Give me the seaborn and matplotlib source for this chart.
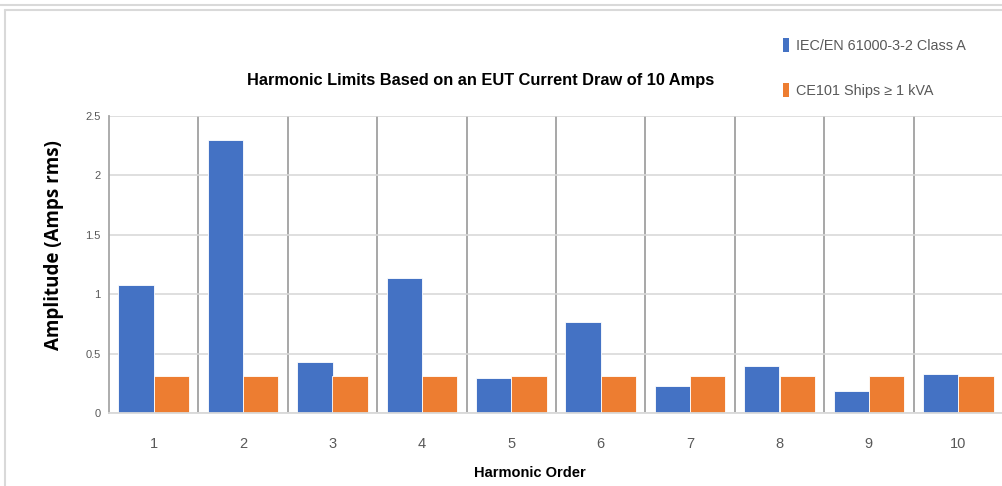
import matplotlib
matplotlib.use("Agg")
import matplotlib.pyplot as plt
import matplotlib.patches as mpatches
import matplotlib.lines as mlines
import pandas as pd
import seaborn as sns

# Harmonic order categories and per-standard current limits (Amps rms)
harmonic_order = ["1", "2", "3", "4", "5", "6", "7", "8", "9", "10"]
iec_class_a = [1.08, 2.30, 0.43, 1.14, 0.30, 0.77, 0.23, 0.40, 0.184, 0.33]
ce101_ships = [0.31, 0.31, 0.31, 0.31, 0.31, 0.31, 0.31, 0.31, 0.31, 0.31]
series_names = ["IEC/EN 61000-3-2 Class A", "CE101 Ships \u2265 1 kVA"]
y_ticks = [0, 0.5, 1, 1.5, 2, 2.5]
y_tick_labels = ["0", "0.5", "1", "1.5", "2", "2.5"]

df = pd.DataFrame({
    "Harmonic": harmonic_order * 2,
    "Amplitude": iec_class_a + ce101_ships,
    "Standard": [series_names[0]] * len(harmonic_order) + [series_names[1]] * len(harmonic_order),
})

sns.set_style("white")
sans = ["Liberation Sans", "DejaVu Sans"]
plt.rcParams["font.family"] = sans

palette = {series_names[0]: "#4472C4", series_names[1]: "#ED7D31"}

fig = plt.figure(figsize=(10.03, 4.86), dpi=100)
ax = fig.add_axes([109 / 1003, 1 - 413.3 / 486, (1003 - 109) / 1003, (413.3 - 116) / 486])

sns.barplot(
    data=df, x="Harmonic", y="Amplitude", hue="Standard", order=harmonic_order,
    hue_order=series_names, palette=palette, width=0.79, ax=ax,
    edgecolor="white", linewidth=0.6, saturation=1, legend=False, errorbar=None,
)

ax.set_xlim(-0.5, 9.5)
ax.set_ylim(0, 2.5)
ax.set_yticks(y_ticks)
ax.set_yticklabels(y_tick_labels)
ax.yaxis.grid(True, color="#d9d9d9", linewidth=1.2)
ax.set_axisbelow(True)

# Category separators
for i in range(len(harmonic_order) - 1):
    ax.axvline(i + 0.5, color="#a0a0a0", linewidth=1.3, zorder=0.5)

for side in ["top", "right"]:
    ax.spines[side].set_visible(False)
ax.spines["left"].set_color("#a6a6a6")
ax.spines["left"].set_linewidth(1.3)
ax.spines["bottom"].set_color("#d9d9d9")
ax.spines["bottom"].set_linewidth(1.3)

ax.tick_params(axis="y", length=0, pad=6, labelsize=8, labelcolor="#595959")
ax.tick_params(axis="x", length=0, pad=17, labelsize=10.5, labelcolor="#595959")

ax.set_xlabel("")
ax.set_ylabel("")
fig.text(530 / 1003, 1 - 473 / 486, "Harmonic Order", ha="center", va="center",
         fontsize=10.5, fontweight="bold", color="#000000")
fig.text(54 / 1003, 1 - 245 / 486, "Amplitude (Amps rms)", rotation=90, ha="center", va="center",
         fontsize=13.5, fontweight="bold", color="#000000", family=["Open Sans", "DejaVu Sans"])

fig.text(481 / 1003, 1 - 80 / 486, "Harmonic Limits Based on an EUT Current Draw of 10 Amps",
         ha="center", va="center", fontsize=11.8, fontweight="bold", color="#000000")

handles = [mpatches.Patch(facecolor=palette[n], edgecolor="none", label=n) for n in series_names]
fig.legend(handles=handles, loc="upper left", bbox_to_anchor=(777 / 1003, 1 - 32 / 486),
           frameon=False, fontsize=10.4, labelcolor="#595959", handlelength=0.45, handleheight=1.1,
           handletextpad=0.5, labelspacing=2.1, borderaxespad=0)

# Surrounding panel frames
fig.add_artist(mlines.Line2D([0, 1], [1 - 5 / 486, 1 - 5 / 486], color="#d9d9d9", linewidth=1.5,
                             transform=fig.transFigure))
fig.add_artist(mlines.Line2D([5 / 1003, 1], [1 - 10 / 486, 1 - 10 / 486], color="#d9d9d9",
                             linewidth=1.5, transform=fig.transFigure))
fig.add_artist(mlines.Line2D([5 / 1003, 5 / 1003], [0, 1 - 10 / 486], color="#d9d9d9",
                             linewidth=1.5, transform=fig.transFigure))

fig.savefig("out.png", dpi=100)
